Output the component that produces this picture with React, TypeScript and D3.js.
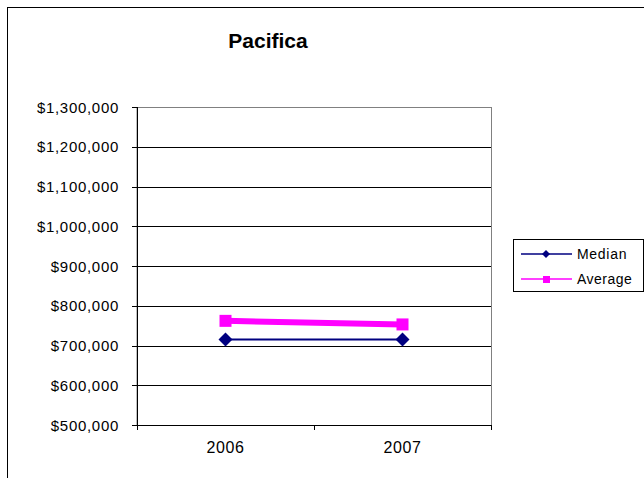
import React from "react";
import * as d3 from "d3";

const categories = ["2006", "2007"];
const medianValues = [715000, 715000];
const averageValues = [762000, 753000];
const yTicks = [500000, 600000, 700000, 800000, 900000, 1000000, 1100000, 1200000, 1300000];
const seriesNames = ["Median", "Average"];

const W = 644, H = 478;
const plot = { left: 137, right: 491, top: 107, bottom: 425 };
const font = "'Liberation Sans', Arial, sans-serif";

const diamondPath = (r: number) => `M0,${-r}L${r},0L0,${r}L${-r},0Z`;

export default function App() {
  const x = d3.scaleBand<string>().domain(categories).range([plot.left, plot.right]);
  const y = d3.scaleLinear().domain([500000, 1300000]).range([plot.bottom, plot.top]);
  const cx = (c: string) => (x(c) as number) + x.bandwidth() / 2;
  const fmt = (v: number) => "$" + d3.format(",")(v);
  const line = d3.line<number>().x((_, i) => cx(categories[i])).y((v) => y(v));
  const boundaries = [plot.left, ...categories.map((c) => (x(c) as number) + x.bandwidth())];

  return (
    <svg width={W} height={H} style={{ position: "absolute", left: 0, top: 0, background: "#fff" }}>
      <rect x={7.5} y={7.5} width={W + 20} height={H + 20} fill="#fff" stroke="#000" strokeWidth={1} />
      <text x={268} y={48} textAnchor="middle" fontFamily={font} fontWeight="bold" fontSize={21}>
        Pacifica
      </text>
      <rect x={plot.left} y={plot.top + 0.5} width={plot.right - plot.left + 0.5} height={plot.bottom - plot.top}
        fill="none" stroke="#808080" strokeWidth={1} />
      {yTicks.map((t) => (
        <g key={t}>
          {t !== 500000 && t !== 1300000 && (
            <line x1={plot.left} x2={plot.right} y1={Math.round(y(t)) + 0.5} y2={Math.round(y(t)) + 0.5} stroke="#000" strokeWidth={1} />
          )}
          <line x1={plot.left - 5} x2={plot.left} y1={Math.round(y(t)) + 0.5} y2={Math.round(y(t)) + 0.5} stroke="#000" />
          <text x={119} y={y(t) + 5.5} textAnchor="end" fontFamily={font} fontSize={15} letterSpacing={0.7}>
            {fmt(t)}
          </text>
        </g>
      ))}
      <line x1={plot.left + 0.5} x2={plot.left + 0.5} y1={plot.top} y2={plot.bottom} stroke="#000" />
      <line x1={plot.left} x2={plot.right} y1={plot.bottom + 0.5} y2={plot.bottom + 0.5} stroke="#000" />
      {boundaries.map((b, i) => (
        <line key={i} x1={b + 0.5} x2={b + 0.5} y1={plot.bottom} y2={plot.bottom + 5} stroke="#000" />
      ))}
      {categories.map((c) => (
        <text key={c} x={cx(c)} y={452.5} textAnchor="middle" fontFamily={font} fontSize={16} letterSpacing={0.6}>
          {c}
        </text>
      ))}
      <path d={line(averageValues) as string} fill="none" stroke="#FF00FF" strokeWidth={6} />
      {averageValues.map((v, i) => (
        <rect key={i} x={cx(categories[i]) - 6} y={y(v) - 6} width={12} height={12} fill="#FF00FF" />
      ))}
      <path d={line(medianValues) as string} fill="none" stroke="#000080" strokeWidth={2} />
      {medianValues.map((v, i) => (
        <path key={i} d={diamondPath(7)} transform={`translate(${cx(categories[i])},${y(v)})`} fill="#000080" />
      ))}
      <rect x={513.5} y={239.5} width={130} height={52} fill="#fff" stroke="#000" />
      <line x1={521} x2={572} y1={254} y2={254} stroke="#000080" strokeWidth={1.5} />
      <path d={diamondPath(4)} transform="translate(546,254)" fill="#000080" />
      <text x={577} y={259} fontFamily={font} fontSize={14} letterSpacing={0.7}>{seriesNames[0]}</text>
      <line x1={521} x2={572} y1={279} y2={279} stroke="#FF00FF" strokeWidth={1.5} />
      <rect x={543} y={276} width={7} height={7} fill="#FF00FF" />
      <text x={577} y={284} fontFamily={font} fontSize={14} letterSpacing={0.5}>{seriesNames[1]}</text>
    </svg>
  );
}
